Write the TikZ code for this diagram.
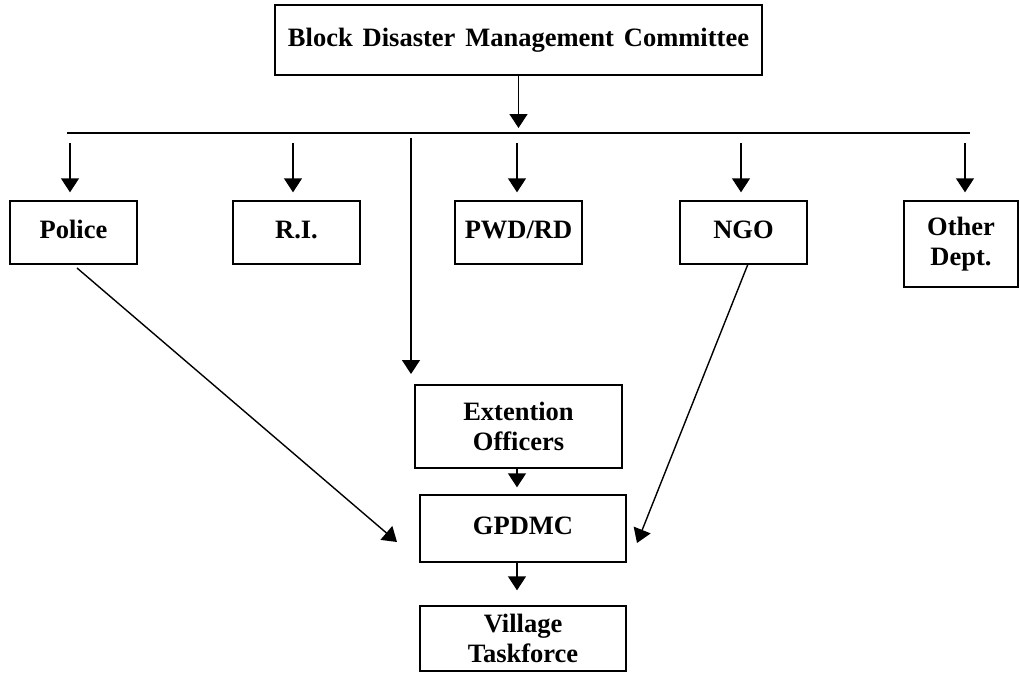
\documentclass[tikz,border=0pt]{standalone}
\usepackage{fontspec}
\setmainfont{Liberation Serif}[WordSpace=1.5]
\usetikzlibrary{arrows.meta,calc}
\begin{document}
\begin{tikzpicture}[x=1pt,y=-1pt,
  box/.style={draw,line width=1.4pt,rectangle,inner sep=0pt,align=center,
    font=\fontsize{26.5}{30.5}\selectfont\bfseries},
  ln/.style={line width=1.4pt},
  arr/.style={line width=1.4pt,-{Triangle[width=18pt,length=14pt]}}]
\useasboundingbox (0,0) rectangle (1020,672);
% nodes
\node[box,minimum width=487pt,minimum height=70pt] (top) at (518.5,40) {\strut Block Disaster Management Committee};
\node[box,minimum width=127pt,minimum height=63pt] (police) at (73.5,232.5) {\strut Police};
\node[box,minimum width=127pt,minimum height=63pt] (ri) at (296.5,232.5) {\strut R.I.};
\node[box,minimum width=127pt,minimum height=63pt] (pwd) at (518.5,232.5) {\strut PWD/RD};
\node[box,minimum width=127pt,minimum height=63pt] (ngo) at (743.5,232.5) {\strut NGO};
\node[box,minimum width=114pt,minimum height=86pt] (other) at (961,244) {Other\\Dept.};
\node[box,minimum width=207pt,minimum height=83pt] (ext) at (518.5,426.5) {Extention\\Officers};
\node[box,minimum width=206pt,minimum height=67pt] (gp) at (523,528.5) {\strut GPDMC};
\node[box,minimum width=206pt,minimum height=65pt] (vil) at (523,638.5) {Village\\Taskforce};
% bus
\coordinate (busL) at (67,133);
\coordinate (busR) at (970,133);
\draw[ln] (busL) -- (busR);
\draw[arr,shorten >=5pt] (top.south) -- (top.south |- busL);
% branch arrows
\foreach \n/\x in {police/70,ri/293,pwd/517,ngo/741,other/965}{
  \coordinate (s\n) at (\x,143);
  \draw[arr,shorten >=8pt] (s\n) -- (s\n |- \n.north);
}
% vertical line to extension officers
\coordinate (vTop) at (411,138);
\coordinate (vEnd) at (411,374);
\draw[arr] (vTop) -- (vEnd);
% diagonals
\coordinate (pS) at (77,268);
\coordinate (gpL) at (397,542);
\draw[arr] (pS) -- (gpL);
\coordinate (nS) at (748,264);
\coordinate (gpR) at (637,543);
\draw[arr] (nS) -- (gpR);
% vertical chain
\coordinate (e1) at (517,468);
\draw[arr,shorten >=7pt] (e1) -- (e1 |- gp.north);
\coordinate (g1) at (517,562);
\draw[arr,shorten >=15pt] (g1) -- (g1 |- vil.north);
\end{tikzpicture}
\end{document}
